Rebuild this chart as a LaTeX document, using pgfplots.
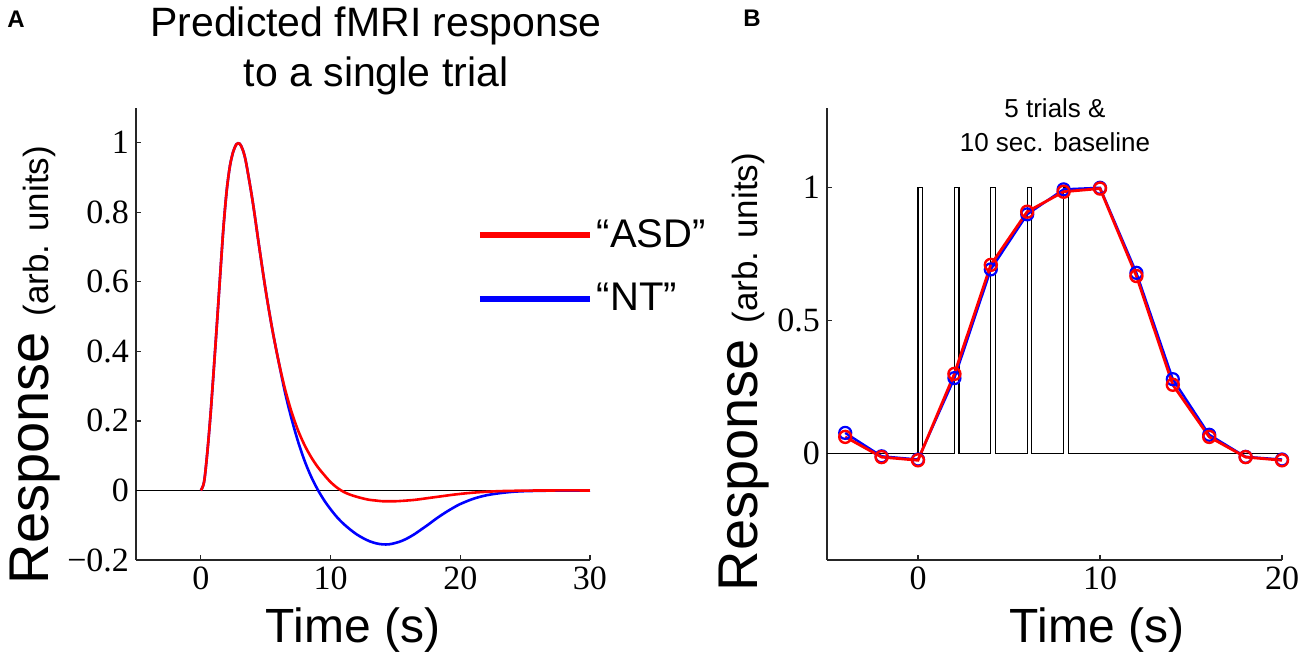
\documentclass[border=0pt]{standalone}
\usepackage{pgfplots}
\pgfplotsset{compat=1.18}
\usepackage{fontspec}
\setmainfont{Liberation Sans}
\newfontfamily\serifnum{Liberation Serif}
\begin{document}
\begin{tikzpicture}
\path[use as bounding box] (0,0) rectangle (650pt,328.5pt);
\pgfplotsset{
  myaxis/.style={
    scale only axis,
    anchor=south west,
    axis x line=bottom, axis y line=left,
    axis line style={-, line width=0.6pt, black!85},
    tick align=inside,
    major tick length=2.5pt,
    tick style={line width=0.6pt, black!85},
    ticklabel style={font=\serifnum\fontsize{17}{20}\selectfont},
    /pgf/number format/assume math mode=true,
    clip=false,
  }
}
% ---------- Panel A ----------
\begin{axis}[myaxis,
  at={(68pt,48.5pt)}, width=227pt, height=226pt,
  xmin=-5, xmax=30, ymin=-0.2, ymax=1.1,
  xtick={0,10,20,30},
  ytick={-0.2,0,0.2,0.4,0.6,0.8,1},
  yticklabels={−0.2,0,0.2,0.4,0.6,0.8,1},
  legend image code/.code={\draw[#1,line width=3pt] (0pt,0pt) -- (55pt,0pt);},
  legend style={draw=none, fill=none, at={(rel axis cs:0.751,0.649)}, anchor=west,
    inner sep=0pt, outer sep=0pt, font=\fontsize{20}{24}\selectfont,
    row sep=12.5pt, /tikz/every even column/.style={column sep=4pt}},
  legend cell align=left,
]
\addplot[black, line width=0.5pt, forget plot] coordinates {(-5,0) (30,0)};
\addplot[blue, line width=1.3pt, smooth, forget plot] coordinates {
(0,0) (0.25,0.025) (0.5,0.11) (0.75,0.22) (1.0,0.35) (1.25,0.485) (1.5,0.625)
(1.75,0.76) (2.0,0.865) (2.25,0.935) (2.5,0.975) (2.75,0.996) (3.0,0.997)
(3.25,0.978) (3.5,0.94) (4.0,0.83) (4.5,0.70) (5.0,0.575) (5.5,0.465) (6.0,0.37)
(6.5,0.28) (7.0,0.205) (7.5,0.14) (8.0,0.085) (8.5,0.04) (9.0,0.003)
(9.5,-0.028) (10.0,-0.054) (10.5,-0.077) (11.0,-0.096) (11.5,-0.112)
(12.0,-0.126) (12.5,-0.137) (13.0,-0.146) (13.5,-0.152) (14.0,-0.155)
(14.5,-0.155) (15.0,-0.151) (15.5,-0.145) (16.0,-0.136) (16.5,-0.125)
(17.0,-0.112) (17.5,-0.099) (18.0,-0.085) (18.5,-0.072) (19.0,-0.06)
(19.5,-0.049) (20.0,-0.039) (21.0,-0.024) (22.0,-0.014) (23.0,-0.008)
(24.0,-0.004) (25.0,-0.002) (27.0,-0.0005) (30,0)};
\addplot[red, line width=1.3pt, smooth] coordinates {
(0,0) (0.25,0.025) (0.5,0.11) (0.75,0.22) (1.0,0.35) (1.25,0.485) (1.5,0.625)
(1.75,0.76) (2.0,0.865) (2.25,0.935) (2.5,0.975) (2.75,0.996) (3.0,0.997)
(3.25,0.978) (3.5,0.94) (4.0,0.83) (4.5,0.70) (5.0,0.575) (5.5,0.465) (6.0,0.37)
(6.5,0.29) (7.0,0.225) (7.5,0.172) (8.0,0.13) (8.5,0.096) (9.0,0.068)
(9.5,0.045) (10.0,0.024) (10.5,0.008) (11.0,-0.004) (11.5,-0.012)
(12.0,-0.018) (12.5,-0.023) (13.0,-0.027) (13.5,-0.029) (14.0,-0.031)
(14.5,-0.031) (15.0,-0.031) (15.5,-0.030) (16.5,-0.027) (17.5,-0.022)
(18.5,-0.017) (19.5,-0.012) (20.5,-0.008) (21.5,-0.005) (23,-0.002)
(25,-0.0005) (27,0) (30,0)};
\addlegendentry{“ASD”}
\addlegendimage{blue}
\addlegendentry{“NT”}
\end{axis}
% ---------- Panel B ----------
\begin{axis}[myaxis,
  at={(413.5pt,48.5pt)}, width=227.5pt, height=226pt,
  xmin=-5, xmax=20, ymin=-0.4, ymax=1.3,
  xtick={0,10,20},
  ytick={0,0.5,1},
  yticklabels={0,0.5,1},
]
\addplot[black, line width=0.55pt] coordinates {
(-5,0) (0,0) (0,1) (0.25,1) (0.25,0) (2,0) (2,1) (2.25,1) (2.25,0)
(4,0) (4,1) (4.25,1) (4.25,0) (6,0) (6,1) (6.25,1) (6.25,0)
(8,0) (8,1) (8.25,1) (8.25,0) (20,0)};
\addplot[blue, line width=1.2pt, mark=o, mark size=3pt, mark options={line width=1.1pt}] coordinates {
(-4,0.078) (-2,-0.01) (0,-0.022) (2,0.284) (4,0.693) (6,0.90) (8,0.994)
(10,1.0) (12,0.68) (14,0.28) (16,0.071) (18,-0.012) (20,-0.022)};
\addplot[red, line width=1.4pt, mark=o, mark size=3pt, mark options={line width=1.2pt}] coordinates {
(-4,0.063) (-2,-0.013) (0,-0.025) (2,0.30) (4,0.71) (6,0.91) (8,0.985)
(10,0.997) (12,0.668) (14,0.259) (16,0.063) (18,-0.013) (20,-0.025)};
\end{axis}
% ---------- Texts ----------
\node[font=\bfseries\fontsize{12}{14}\selectfont] at (8pt,319pt) {A};
\node[font=\bfseries\fontsize{12}{14}\selectfont] at (376pt,319.5pt) {B};
\node[anchor=base, inner sep=0pt, font=\fontsize{20.5}{24}\selectfont] at (188pt,310pt) {Predicted fMRI response};
\node[anchor=base, inner sep=0pt, font=\fontsize{20.5}{24}\selectfont] at (188pt,285pt) {to a single trial};
\node[anchor=base, inner sep=0pt, font=\fontsize{13}{16}\selectfont] at (527.5pt,269.5pt) {5 trials \&};
\node[anchor=base, inner sep=0pt, font=\fontsize{13}{16}\selectfont] at (527.5pt,252.5pt) {10 sec. baseline};
\node[anchor=base, inner sep=0pt, font=\fontsize{24}{28}\selectfont] at (176.5pt,7pt) {Time (s)};
\node[anchor=base, inner sep=0pt, font=\fontsize{24}{28}\selectfont] at (548.5pt,7pt) {Time (s)};
\node[anchor=base, inner sep=0pt, rotate=90] at (24pt,146pt) {\fontsize{28}{32}\selectfont Response \fontsize{17.5}{20}\selectfont(arb. units)};
\node[anchor=base, inner sep=0pt, rotate=90] at (378.5pt,142.5pt) {\fontsize{28}{32}\selectfont Response \fontsize{17.5}{20}\selectfont(arb. units)};
\end{tikzpicture}
\end{document}
